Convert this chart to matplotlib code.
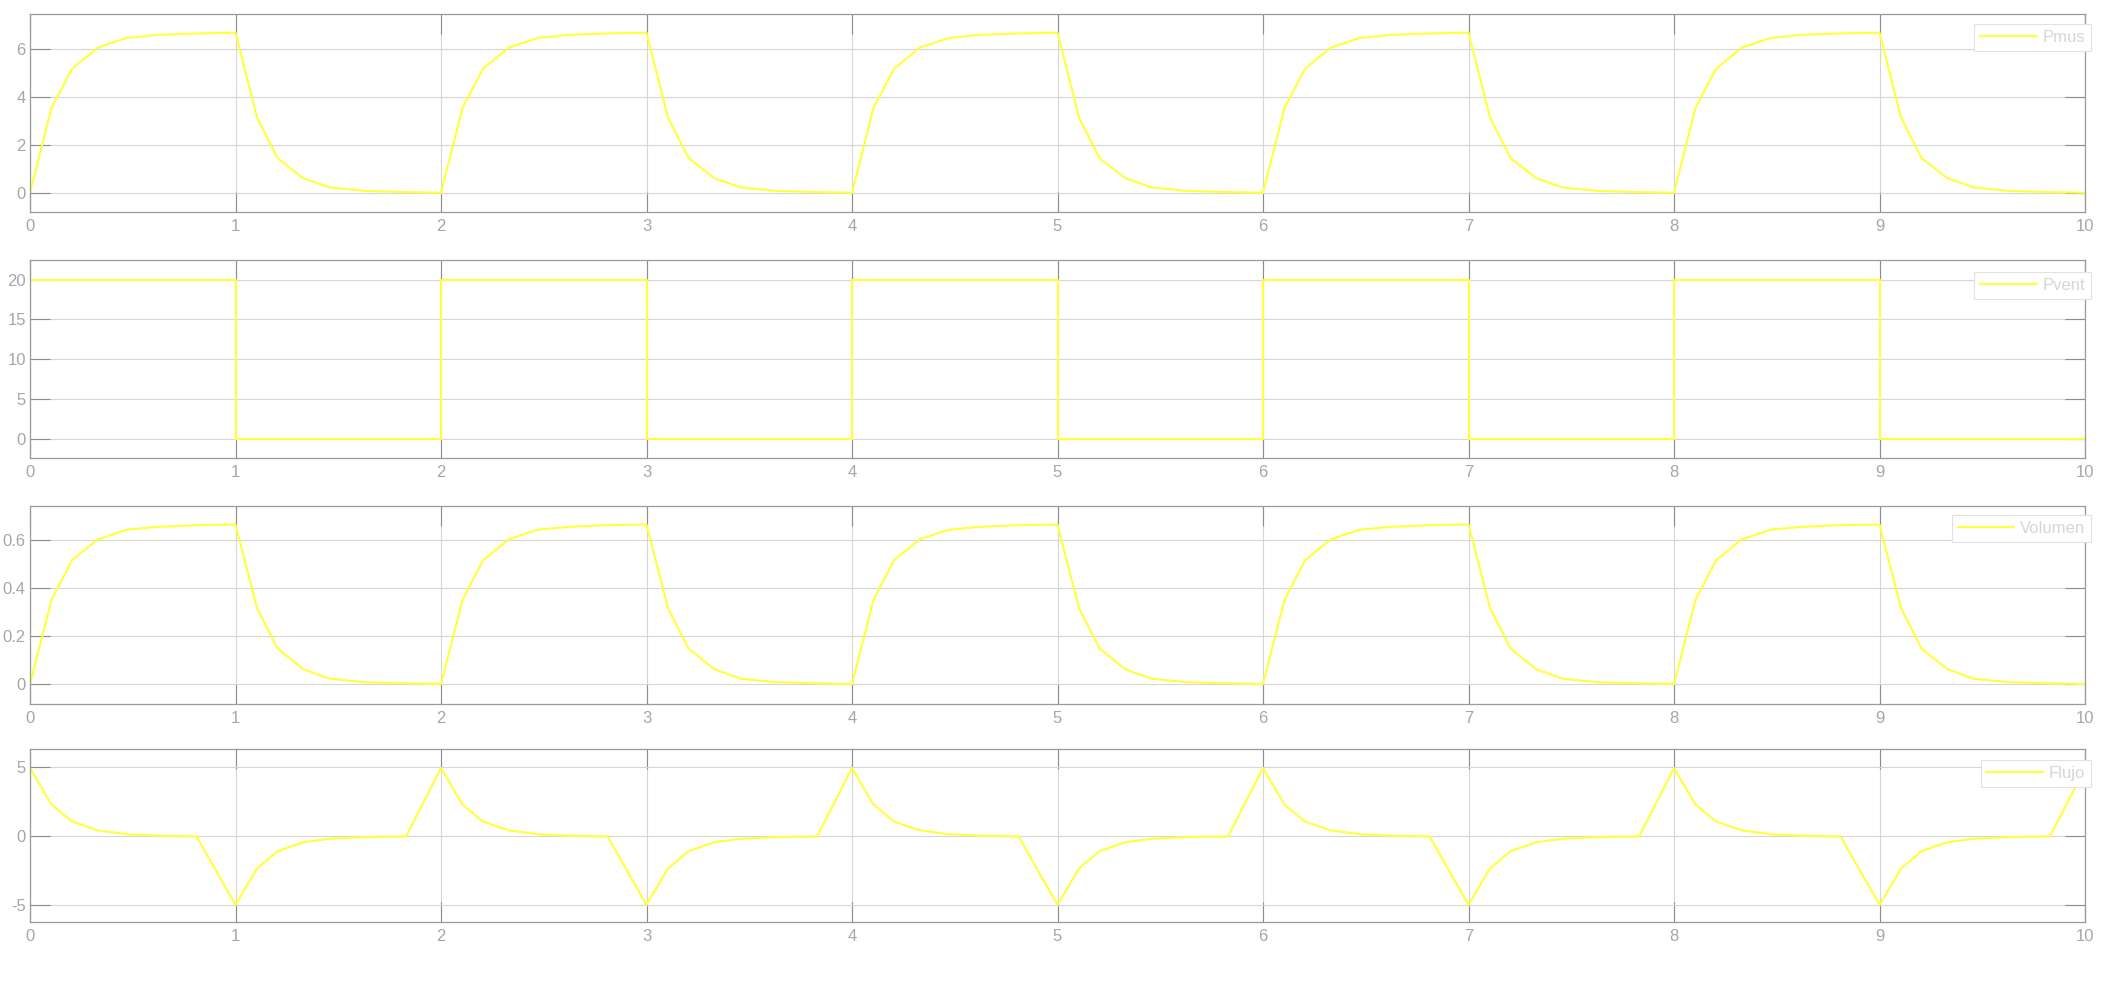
import numpy as np
import matplotlib
matplotlib.use("Agg")
import matplotlib.pyplot as plt

plt.rcParams['font.family'] = ['Liberation Sans', 'DejaVu Sans']

# one breathing cycle (period 2 s)
t_cycle = [0.0, 0.105, 0.205, 0.33, 0.47, 0.62, 0.81, 1.0, 1.105, 1.205, 1.33, 1.46, 1.63, 1.83]
pmus_cycle = [0.0, 3.55, 5.17, 6.05, 6.45, 6.58, 6.64, 6.67, 3.13, 1.44, 0.61, 0.22, 0.08, 0.03]
vol_cycle = [0.0, 0.352, 0.517, 0.604, 0.644, 0.656, 0.663, 0.666, 0.316, 0.148, 0.062, 0.022, 0.008, 0.003]
flujo_cycle = [4.95, 2.3, 1.07, 0.44, 0.16, 0.05, 0.0, -4.95, -2.32, -1.07, -0.42, -0.17, -0.05, 0.0]
n_cycles = 5
t_end = 10.0
pmus_end, vol_end, flujo_end = 0.0, 0.0, 4.95

# ventilator pressure, square wave
pvent_t = [0, 1, 2, 3, 4, 5, 6, 7, 8, 9, 10]
pvent_val = [20, 0, 20, 0, 20, 0, 20, 0, 20, 0, 0]

labels = ['Pmus', 'Pvent', 'Volumen', 'Flujo']
ylims = [(-0.8, 7.45), (-2.35, 22.45), (-0.083, 0.743), (-6.2, 6.33)]
yticks = [[0, 2, 4, 6], [0, 5, 10, 15, 20], [0, 0.2, 0.4, 0.6], [-5, 0, 5]]
yticklabels = [['0', '2', '4', '6'], ['0', '5', '10', '15', '20'],
               ['0', '0.2', '0.4', '0.6'], ['-5', '0', '5']]


def tile(vals, end):
    t = np.concatenate([np.array(t_cycle) + 2 * k for k in range(n_cycles)] + [[t_end]])
    v = np.concatenate([vals] * n_cycles + [[end]])
    return t, v


series = [tile(pmus_cycle, pmus_end), (pvent_t, pvent_val),
          tile(vol_cycle, vol_end), tile(flujo_cycle, flujo_end)]

W, H = 2109, 981
fig = plt.figure(figsize=(W / 100, H / 100), dpi=100)
fig.patch.set_facecolor('white')

# axes boxes in pixels: (top, bottom)
boxes = [(14, 212), (260, 458), (506, 704), (749, 922)]
left, right = 30, 2085
leg_tops = [10, 12, 9, 11]

line_col = '#ffff3a'
spine_col = '#9a9a9a'
tick_col = '#8c8c8c'
label_col = '#a6a6a6'
grid_col = '#d6d6d6'

for i, (top, bot) in enumerate(boxes):
    ax = fig.add_axes([left / W, 1 - bot / H, (right - left) / W, (bot - top) / H])
    ax.set_facecolor('white')
    x, y = series[i]
    if labels[i] == 'Pvent':
        ax.plot(x, y, color=line_col, lw=1.5, drawstyle='steps-post', label=labels[i])
    else:
        ax.plot(x, y, color=line_col, lw=1.5, label=labels[i])
    ax.set_xlim(0, 10)
    ax.set_ylim(*ylims[i])
    ax.set_xticks(range(11))
    ax.set_yticks(yticks[i])
    ax.set_yticklabels(yticklabels[i])
    ax.grid(True, color=grid_col, lw=0.8)
    ax.set_axisbelow(True)
    for s in ax.spines.values():
        s.set_color(spine_col)
        s.set_linewidth(0.9)
    ax.tick_params(axis='both', direction='in', length=14.5, width=0.8, color=tick_col,
                   labelcolor=label_col, labelsize=12, top=True, right=True)
    ax.tick_params(axis='x', pad=5)
    ax.tick_params(axis='y', pad=3)

    h = bot - top
    leg = ax.legend(loc='upper right', bbox_to_anchor=(1.003, 1 - leg_tops[i] / h),
                    borderaxespad=0, fontsize=12, frameon=True, fancybox=False,
                    framealpha=1, edgecolor='#e2e2e2', handlelength=3.4,
                    handletextpad=0.35, borderpad=0.35)
    leg.get_frame().set_linewidth(0.8)
    for txt in leg.get_texts():
        txt.set_color('#d6d6d6')

fig.savefig('out.png', dpi=100, facecolor='white')
